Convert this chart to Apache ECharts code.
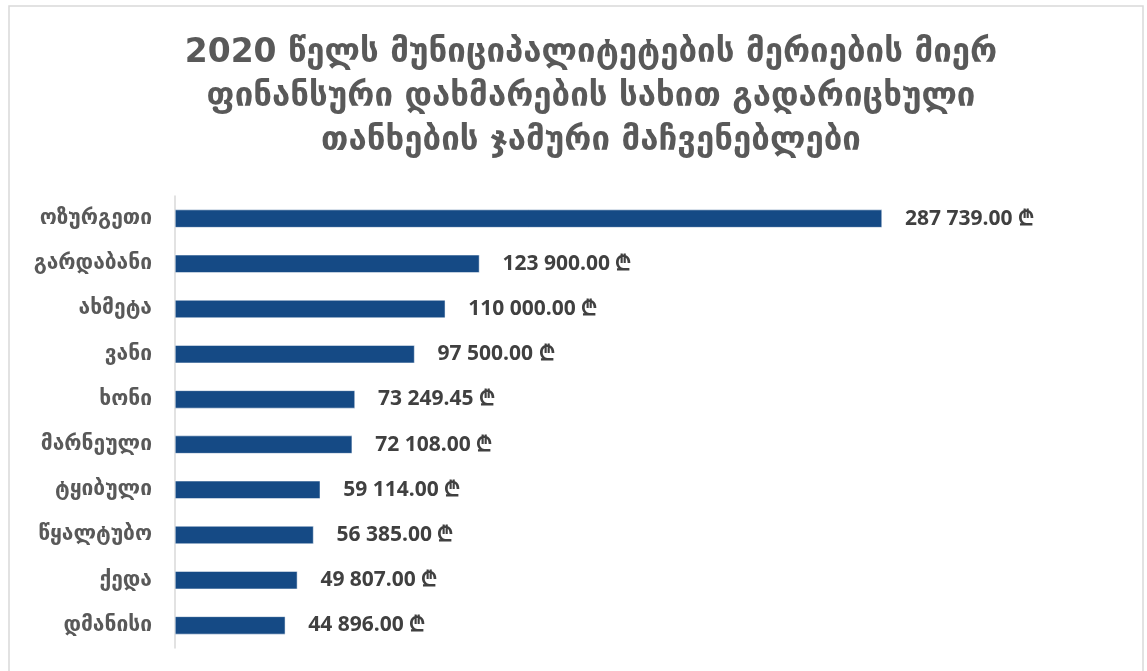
<!DOCTYPE html>
<html><head><meta charset="utf-8">
<script src="https://cdn.jsdelivr.net/npm/echarts@6/dist/echarts.min.js"></script>
<style>html,body{margin:0;padding:0;background:#fff}#c{width:1147px;height:671px}</style>
</head><body><div id="c"></div>
<script>
const titleLines = [
  '2020 წელს მუნიციპალიტეტების მერიების მიერ',
  'ფინანსური დახმარების სახით გადარიცხული',
  'თანხების ჯამური მაჩვენებლები'
];
const categories = ['ოზურგეთი','გარდაბანი','ახმეტა','ვანი','ხონი','მარნეული','ტყიბული','წყალტუბო','ქედა','დმანისი'];
const values = [287739.00,123900.00,110000.00,97500.00,73249.45,72108.00,59114.00,56385.00,49807.00,44896.00];

function fmt(v){
  const s = v.toFixed(2).split('.');
  return s[0].replace(/\B(?=(\d{3})+(?!\d))/g,' ') + '.' + s[1] + ' ₾';
}
const chart = echarts.init(document.getElementById('c'));
chart.setOption({
  animation:false,
  backgroundColor:'#fff',
  graphic:[{type:'rect',shape:{x:9,y:6,width:1134,height:680},style:{fill:'none',stroke:'#d9d9d9',lineWidth:1.5},silent:true}],
  title:{
    text: titleLines.join('\n'),
    left:586, textAlign:'center', top:26,
    textStyle:{fontFamily:'DejaVu Sans',fontWeight:'bold',fontSize:33,color:'#595959',lineHeight:44}
  },
  grid:{left:175,top:196,width:860,height:452,containLabel:false},
  xAxis:{type:'value',min:0,max:350000,show:false},
  yAxis:{type:'category',data:categories,inverse:true,
    axisLine:{lineStyle:{color:'#d9d9d9',width:1.5}},axisTick:{show:false},
    axisLabel:{margin:23,fontFamily:'DejaVu Sans',fontWeight:'bold',fontSize:21,color:'#595959'}},
  series:[{type:'bar',data:values,barWidth:18,
    itemStyle:{color:'#154A85',borderColor:'#ffffff',borderWidth:0.5},
    label:{show:true,position:'right',distance:23,formatter:p=>fmt(p.value),
      fontFamily:'Open Sans, DejaVu Sans',fontWeight:'bold',fontSize:21,color:'#404040'}}]
});
</script></body></html>
